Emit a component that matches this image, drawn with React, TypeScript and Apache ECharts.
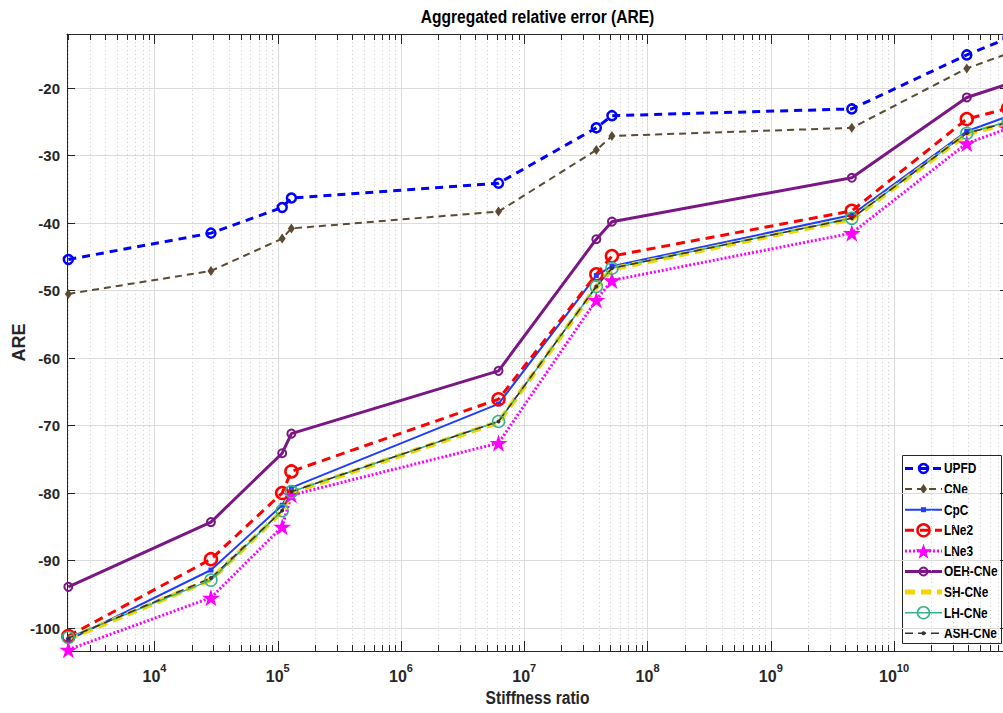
import React, { useEffect, useRef } from "react";
import * as echarts from "echarts";

// Stiffness ratios at which every method was evaluated
const STIFFNESS = [2000, 2.87e4, 1.086e5, 1.29e5, 6.18e6, 3.84e7, 5.14e7, 4.54e9, 3.89e10, 8.4e10];

// Aggregated relative error per method
const UPFD = [-45.4, -41.5, -37.7, -36.3, -34.1, -25.9, -24.1, -23.1, -15.1, -12.6];
const CNE = [-50.5, -47.1, -42.3, -40.8, -38.3, -29.2, -27.1, -25.9, -17.1, -14.9];
const CPC = [-101.8, -91.4, -81.8, -79.2, -66.8, -47.8, -46.4, -38.8, -26.4, -24.2];
const LNE2 = [-101.2, -89.8, -80.0, -76.8, -66.1, -47.6, -44.9, -38.2, -24.6, -23.0];
const LNE3 = [-103.2, -95.5, -85.0, -80.3, -72.6, -51.4, -48.5, -41.5, -28.2, -26.0];
const OEH_CNE = [-93.9, -84.3, -74.1, -71.2, -61.9, -42.4, -39.8, -33.3, -21.4, -19.4];
const SH_CNE = [-101.6, -92.8, -82.7, -79.9, -69.5, -49.5, -46.8, -39.4, -26.8, -25.2];
const LH_CNE = [-101.4, -92.9, -82.6, -79.8, -69.4, -49.4, -46.7, -39.3, -26.7, -25.0];
const ASH_CNE = [-101.5, -92.6, -82.6, -79.8, -69.4, -49.4, -46.7, -39.3, -26.7, -25.1];

const X_MIN = 1950;
const X_MAX = 8.4e10;
const Y_MIN = -103.4;
const Y_MAX = -12;

// Minor decade ticks (2..9 x 10^k) inside the x range
const MINOR_X: number[] = [];
for (let k = 3; k <= 10; k++) {
  for (let m = 2; m <= 9; m++) {
    const v = m * Math.pow(10, k);
    if (v > X_MIN && v < X_MAX) MINOR_X.push(v);
  }
}

const FONT = '"Liberation Sans", Arial, sans-serif';
const AXIS_COLOR = "#262626";

// Five-pointed star outline, unit radius
const STAR_PTS: number[][] = [
  [0, -1], [0.2245, -0.309], [0.951, -0.309], [0.363, 0.118], [0.588, 0.809],
  [0, 0.382], [-0.588, 0.809], [-0.363, 0.118], [-0.951, -0.309], [-0.2245, -0.309],
];
const STAR_PATH = "path://M" + STAR_PTS.map((p) => p.join(",")).join("L") + "Z";

type Marker = "circle" | "diamond" | "square" | "star" | "dot" | "none";
interface Style {
  name: string;
  data: number[];
  color: string;
  width: number;
  dash: any;
  marker: Marker;
  size: number;
  markerWidth: number;
}

const STYLES: Style[] = [
  { name: "UPFD", data: UPFD, color: "#0000ff", width: 3, dash: [8, 6], marker: "circle", size: 9, markerWidth: 2.5 },
  { name: "CNe", data: CNE, color: "#5c4a32", width: 2, dash: [7, 5], marker: "diamond", size: 9, markerWidth: 1 },
  { name: "CpC", data: CPC, color: "#1f3dff", width: 2, dash: "solid", marker: "square", size: 5, markerWidth: 1 },
  { name: "LNe2", data: LNE2, color: "#ff0000", width: 3, dash: [9, 6], marker: "circle", size: 12, markerWidth: 2.5 },
  { name: "LNe3", data: LNE3, color: "#ff00ff", width: 3, dash: [2, 2], marker: "star", size: 18, markerWidth: 0 },
  { name: "OEH-CNe", data: OEH_CNE, color: "#7b1685", width: 3, dash: "solid", marker: "circle", size: 8, markerWidth: 2 },
  { name: "SH-CNe", data: SH_CNE, color: "#f5d500", width: 5, dash: [10, 6], marker: "none", size: 0, markerWidth: 0 },
  { name: "LH-CNe", data: LH_CNE, color: "#36b28a", width: 1.5, dash: "solid", marker: "circle", size: 12, markerWidth: 1.5 },
  { name: "ASH-CNe", data: ASH_CNE, color: "#3b3030", width: 1.5, dash: [8, 5], marker: "dot", size: 4, markerWidth: 0 },
];

const SYMBOL: Record<Marker, string> = {
  circle: "circle",
  diamond: "diamond",
  square: "rect",
  star: STAR_PATH,
  dot: "circle",
  none: "none",
};

const pair = (ys: number[]) => ys.map((y, i) => [STIFFNESS[i], y]);

function seriesOf(s: Style) {
  const hollow = s.marker === "circle";
  return {
    name: s.name,
    type: "line",
    data: pair(s.data),
    symbol: SYMBOL[s.marker],
    symbolSize: s.marker === "diamond" ? [7, 10] : s.size,
    symbolKeepAspect: true,
    showSymbol: s.marker !== "none",
    lineStyle: { color: s.color, width: s.width, type: s.dash },
    itemStyle: {
      color: hollow ? "rgba(0,0,0,0)" : s.color,
      borderColor: s.color,
      borderWidth: hollow ? s.markerWidth : 0,
    },
    emphasis: { disabled: true },
    z: 3,
  };
}

// Legend swatch: line sample plus the series marker
function legendItem(s: Style, i: number, left: number, top: number, rowH: number) {
  const cy = top + i * rowH;
  const x1 = left + 3;
  const x2 = left + 40;
  const cx = (x1 + x2) / 2;
  const children: any[] = [
    {
      type: "line",
      shape: { x1, y1: cy, x2, y2: cy },
      style: { stroke: s.color, lineWidth: s.width, lineDash: Array.isArray(s.dash) ? s.dash : null },
    },
  ];
  const r = s.size / 2;
  if (s.marker === "circle") {
    children.push({ type: "circle", shape: { cx, cy, r }, style: { fill: "rgba(0,0,0,0)", stroke: s.color, lineWidth: s.markerWidth } });
  } else if (s.marker === "diamond") {
    children.push({
      type: "polygon",
      shape: { points: [[cx, cy - 5], [cx + 3.5, cy], [cx, cy + 5], [cx - 3.5, cy]] },
      style: { fill: s.color },
    });
  } else if (s.marker === "square") {
    children.push({ type: "rect", shape: { x: cx - r, y: cy - r, width: s.size, height: s.size }, style: { fill: s.color } });
  } else if (s.marker === "star") {
    const R = 8.5;
    children.push({
      type: "polygon",
      shape: { points: STAR_PTS.map((p) => [cx + p[0] * R, cy + 1 + p[1] * R]) },
      style: { fill: s.color },
    });
  } else if (s.marker === "dot") {
    children.push({ type: "circle", shape: { cx, cy, r }, style: { fill: s.color } });
  }
  children.push({
    type: "text",
    x: x2 + 2,
    y: cy,
    scaleX: 0.85,
    style: { text: s.name, font: "bold 14px " + FONT, fill: "#000", textVerticalAlign: "middle" },
  });
  return children;
}

export default function App() {
  const ref = useRef<HTMLDivElement>(null);

  useEffect(() => {
    document.body.style.margin = "0";
    const chart = echarts.init(ref.current!, null, { renderer: "svg" });

    const powerLabel = (v: number) => {
      const p = Math.log10(v);
      const r = Math.round(p);
      if (Math.abs(p - r) > 1e-6) return "";
      return "{b|10}{s|" + r + "}";
    };

    const LEG_LEFT = 902;
    const LEG_TOP = 455;
    const ROW_H = 20.6;
    const legendChildren: any[] = [
      {
        type: "rect",
        shape: { x: LEG_LEFT + 0.5, y: LEG_TOP + 0.5, width: 99, height: 188 },
        style: { fill: "#fff", stroke: AXIS_COLOR, lineWidth: 1 },
      },
    ];
    STYLES.forEach((s, i) => legendChildren.push(...legendItem(s, i, LEG_LEFT, LEG_TOP + 13.5, ROW_H)));

    chart.setOption({
      animation: false,
      grid: { left: 67, right: -5, top: 34, bottom: 62, outerBoundsMode: "none", containLabel: false },
      graphic: [
        {
          type: "text",
          x: 537.5,
          y: 7,
          scaleX: 0.82,
          style: {
            text: "Aggregated relative error (ARE)",
            textAlign: "center",
            fill: "#000",
            font: "bold 19px " + FONT,
          },
        },
        {
          type: "text",
          x: 537.5,
          y: 688,
          scaleX: 0.82,
          style: {
            text: "Stiffness ratio",
            textAlign: "center",
            fill: AXIS_COLOR,
            font: "bold 19px " + FONT,
          },
        },
        {
          type: "text",
          x: 19,
          y: 342.5,
          rotation: Math.PI / 2,
          style: {
            text: "ARE",
            textAlign: "center",
            textVerticalAlign: "middle",
            fill: AXIS_COLOR,
            font: "bold 18px " + FONT,
          },
        },
        { type: "group", z: 100, children: legendChildren },
      ],
      xAxis: [
        {
          type: "log",
          logBase: 10,
          min: X_MIN,
          max: X_MAX,
          axisLine: { lineStyle: { color: AXIS_COLOR, width: 1 } },
          axisTick: { inside: true, length: 10, lineStyle: { color: AXIS_COLOR } },
          axisLabel: {
            formatter: powerLabel,
            margin: 11,
            showMinLabel: false,
            showMaxLabel: false,
            rich: {
              b: { fontFamily: FONT, fontWeight: "bold", fontSize: 16, color: AXIS_COLOR, verticalAlign: "bottom", lineHeight: 22 },
              s: { fontFamily: FONT, fontWeight: "bold", fontSize: 11, color: AXIS_COLOR, verticalAlign: "top", lineHeight: 22 },
            },
          },
          splitLine: { show: true, lineStyle: { color: "#dcdcdc", width: 1 } },
        },
        {
          type: "log",
          logBase: 10,
          min: X_MIN,
          max: X_MAX,
          position: "top",
          axisLine: { lineStyle: { color: AXIS_COLOR, width: 1 } },
          axisTick: { inside: true, length: 10, lineStyle: { color: AXIS_COLOR } },
          axisLabel: { show: false },
          splitLine: { show: false },
        },
      ],
      yAxis: [
        {
          type: "value",
          min: Y_MIN,
          max: Y_MAX,
          splitNumber: 9,
          axisLine: { show: true, lineStyle: { color: AXIS_COLOR, width: 1 } },
          axisTick: { show: true, inside: true, length: 8, lineStyle: { color: AXIS_COLOR } },
          axisLabel: {
            margin: 7,
            fontFamily: FONT,
            fontWeight: "bold",
            fontSize: 15,
            color: AXIS_COLOR,
            formatter: (v: number) => (Math.abs(v % 10) < 1e-6 ? String(v) : ""),
          },
          splitLine: { show: true, lineStyle: { color: "#dcdcdc", width: 1 } },
        },
        {
          type: "value",
          min: Y_MIN,
          max: Y_MAX,
          splitNumber: 9,
          position: "right",
          axisLine: { show: true, lineStyle: { color: AXIS_COLOR, width: 1 } },
          axisTick: { show: true, inside: true, length: 8, lineStyle: { color: AXIS_COLOR } },
          axisLabel: { show: false },
          splitLine: { show: false },
        },
      ],
      series: [
        {
          name: "minor-grid",
          type: "custom",
          silent: true,
          z: 1,
          clip: true,
          data: MINOR_X.map((v) => [v, Y_MIN]),
          renderItem: (params: any, api: any) => {
            const pt = api.coord([api.value(0), Y_MIN]);
            const cs = params.coordSys;
            const x = Math.round(pt[0]) + 0.5;
            const top = cs.y;
            const bottom = cs.y + cs.height;
            return {
              type: "group",
              children: [
                { type: "line", shape: { x1: x, y1: top, x2: x, y2: bottom }, style: { stroke: "#cfcfcf", lineWidth: 1, lineDash: [1, 3] } },
                { type: "line", shape: { x1: x, y1: bottom, x2: x, y2: bottom - 6 }, style: { stroke: AXIS_COLOR, lineWidth: 1 } },
                { type: "line", shape: { x1: x, y1: top, x2: x, y2: top + 6 }, style: { stroke: AXIS_COLOR, lineWidth: 1 } },
              ],
            };
          },
        },
        ...STYLES.map(seriesOf),
      ],
    });

    return () => chart.dispose();
  }, []);

  return <div ref={ref} style={{ width: 1003, height: 713 }} />;
}
